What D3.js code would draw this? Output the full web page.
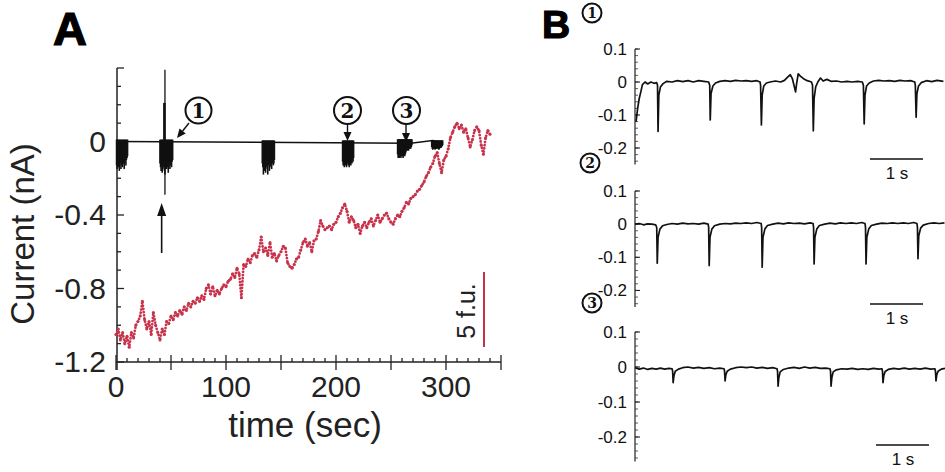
<!DOCTYPE html>
<html>
<head>
<meta charset="utf-8">
<script src="https://cdn.jsdelivr.net/npm/d3@7"></script>
<style>
  body { margin: 0; background: #fff; }
  svg { display: block; font-family: "Liberation Sans", Arial, sans-serif; }
</style>
</head>
<body>
<svg id="chart" width="945" height="472"></svg>
<script>
// ---- panel A data ----
const RED_STEP = 2; // sec between fluorescence samples
const fluorescence = [
  -1.05,-1.02,-1.08,-1.04,-1.10,-1.06,-1.12,-1.04,-1.07,-1.00,-0.98,-0.95,-0.87,-0.97,-1.02,-0.98,
  -1.05,-0.93,-1.00,-1.04,-1.08,-1.02,-1.05,-0.98,-0.99,-0.95,-0.97,-0.93,-0.95,-0.92,-0.94,-0.90,
  -0.92,-0.88,-0.90,-0.87,-0.88,-0.85,-0.87,-0.84,-0.86,-0.80,-0.78,-0.83,-0.79,-0.84,-0.81,-0.83,
  -0.80,-0.78,-0.79,-0.76,-0.75,-0.72,-0.74,-0.69,-0.72,-0.85,-0.67,-0.68,-0.64,-0.66,-0.62,-0.61,
  -0.63,-0.59,-0.52,-0.60,-0.58,-0.62,-0.55,-0.63,-0.61,-0.65,-0.62,-0.60,-0.57,-0.58,-0.66,-0.68,
  -0.69,-0.67,-0.64,-0.63,-0.59,-0.55,-0.53,-0.57,-0.55,-0.60,-0.54,-0.53,-0.49,-0.43,-0.46,-0.48,
  -0.47,-0.46,-0.48,-0.45,-0.44,-0.41,-0.39,-0.36,-0.34,-0.38,-0.44,-0.41,-0.43,-0.47,-0.45,-0.50,
  -0.46,-0.44,-0.47,-0.44,-0.42,-0.46,-0.43,-0.40,-0.44,-0.42,-0.40,-0.39,-0.42,-0.44,-0.45,-0.42,
  -0.40,-0.41,-0.38,-0.36,-0.33,-0.34,-0.31,-0.30,-0.29,-0.27,-0.26,-0.24,-0.22,-0.19,-0.17,-0.14,
  -0.12,-0.08,-0.06,-0.12,-0.17,-0.10,-0.08,-0.04,0.02,0.05,0.08,0.10,0.07,0.09,0.05,0.07,
  0.02,-0.03,0.01,0.06,0.08,0.06,-0.02,-0.07,0.02,0.06,0.04
];

const baselineA = [[0, 0], [268, -0.01], [288, 0.005], [297, -0.01]];
const BURST_STEP = 0.5;
const burstStarts = [0.5, 40, 133, 206, 256, 287];
const burstTops = [0.01, 0.01, 0.005, 0.005, 0.012, 0.006];
const burstDepths = [
  [-0.13,-0.15,-0.10,-0.14,-0.11,-0.16,-0.12,-0.10,-0.15,-0.13,-0.11,-0.14,-0.10,-0.12,-0.15,-0.11,-0.10,-0.13,-0.10,-0.09,-0.08],
  [-0.12,-0.14,-0.16,-0.13,-0.17,-0.15,-0.12,-0.14,-0.16,-0.18,-0.15,-0.13,-0.15,-0.12,-0.14,-0.17,-0.13,-0.11,-0.15,-0.13,-0.12,-0.14,-0.11,-0.10],
  [-0.12,-0.14,-0.18,-0.13,-0.16,-0.12,-0.17,-0.14,-0.12,-0.15,-0.18,-0.13,-0.12,-0.16,-0.14,-0.12,-0.13,-0.15,-0.12,-0.11,-0.13,-0.12,-0.10],
  [-0.11,-0.13,-0.12,-0.14,-0.11,-0.13,-0.12,-0.14,-0.12,-0.11,-0.13,-0.12,-0.14,-0.11,-0.12,-0.13,-0.11,-0.12,-0.10,-0.11,-0.09],
  [-0.07,-0.09,-0.08,-0.09,-0.07,-0.08,-0.09,-0.08,-0.07,-0.08,-0.09,-0.08,-0.07,-0.08,-0.07,-0.06,-0.05,-0.04,-0.05,-0.04,-0.05,-0.04,-0.04,-0.03,-0.04,-0.03,-0.02],
  [-0.03,-0.04,-0.045,-0.04,-0.035,-0.04,-0.045,-0.04,-0.035,-0.04,-0.04,-0.035,-0.04,-0.045,-0.04,-0.035,-0.03,-0.035,-0.03,-0.025,-0.02]
];
// stimulus artefact: [t, top, bottom, width]
const artefact = [[44.5, 0.39, -0.29, 1.3], [44.0, 0.21, 0, 2.6]];

const yTicksA = [0, -0.4, -0.8, -1.2];
const xTicksA = [0, 100, 200, 300];

// ---- panel B data: [sec, nA] ----
const traceB1 = [
  [0.02,-0.12],[0.05,-0.08],[0.08,-0.05],[0.11,-0.03],[0.14,-0.008],[0.19,0.0],[0.24,-0.006],[0.3,0.0],[0.36,-0.004],[0.41,-0.002],
  [0.425,-0.01],[0.435,-0.15],[0.45,-0.04],[0.48,-0.015],[0.53,-0.005],
  [0.6,0.002],[0.7,0.0],[0.8,0.004],[0.9,0.001],[1.0,0.004],[1.1,0.0],[1.2,0.004],[1.3,0.002],[1.39,0.0],
  [1.41,-0.01],[1.42,-0.115],[1.435,-0.035],[1.47,-0.012],[1.52,-0.003],
  [1.6,0.002],[1.7,0.004],[1.8,0.002],[1.9,0.005],[2.0,0.003],[2.1,0.004],[2.2,0.002],[2.3,0.004],[2.36,0.0],
  [2.37,-0.01],[2.385,-0.13],[2.40,-0.04],[2.43,-0.012],[2.48,-0.003],
  [2.55,0.0],[2.65,0.003],[2.75,0.0],[2.82,0.005],[2.88,0.015],[2.93,0.022],[2.97,0.01],[3.0,-0.01],[3.03,-0.03],[3.05,-0.005],[3.08,0.025],[3.12,0.018],[3.18,0.01],[3.25,0.004],[3.33,0.0],
  [3.35,-0.01],[3.365,-0.148],[3.38,-0.05],[3.41,-0.015],[3.45,0.0],[3.5,0.012],[3.55,0.003],[3.62,0.008],[3.7,0.002],[3.8,0.003],[3.9,0.0],[4.0,0.002],[4.1,0.0],[4.2,0.002],[4.29,0.0],
  [4.31,-0.01],[4.325,-0.127],[4.34,-0.04],[4.37,-0.012],[4.42,-0.003],
  [4.5,0.003],[4.6,0.005],[4.7,0.003],[4.8,0.004],[4.9,0.002],[5.0,0.005],[5.1,0.003],[5.2,0.004],[5.28,0.0],
  [5.29,-0.01],[5.305,-0.107],[5.32,-0.035],[5.35,-0.012],[5.4,-0.002],
  [5.5,0.004],[5.6,0.001],[5.7,0.005],[5.82,0.002]
];
const traceB2 = [
  [0.0,0.0],[0.08,0.002],[0.16,-0.002],[0.24,0.001],[0.32,0.0],[0.39,-0.002],
  [0.41,-0.01],[0.42,-0.118],[0.435,-0.04],[0.47,-0.015],[0.52,-0.005],
  [0.6,-0.001],[0.7,0.002],[0.8,0.0],[0.9,0.003],[1.0,0.001],[1.1,0.002],[1.2,0.0],[1.3,0.003],[1.38,0.0],
  [1.39,-0.01],[1.40,-0.125],[1.415,-0.04],[1.45,-0.015],[1.5,-0.005],
  [1.6,0.0],[1.7,0.002],[1.8,0.001],[1.9,0.003],[2.0,0.002],[2.1,0.004],[2.2,0.002],[2.3,0.005],[2.38,0.002],
  [2.39,-0.01],[2.40,-0.13],[2.415,-0.04],[2.45,-0.015],[2.5,-0.004],
  [2.6,0.0],[2.7,0.003],[2.8,0.001],[2.9,0.004],[3.0,0.002],[3.1,0.003],[3.2,0.001],[3.3,0.004],[3.36,0.002],
  [3.37,-0.01],[3.38,-0.12],[3.395,-0.04],[3.43,-0.015],[3.48,-0.004],
  [3.58,0.0],[3.68,0.003],[3.78,0.001],[3.88,0.004],[3.98,0.002],[4.08,0.004],[4.18,0.002],[4.28,0.005],[4.34,0.002],
  [4.35,-0.01],[4.36,-0.12],[4.375,-0.04],[4.41,-0.015],[4.46,-0.004],
  [4.56,0.0],[4.66,0.003],[4.76,0.002],[4.86,0.004],[4.96,0.002],[5.06,0.004],[5.16,0.002],[5.26,0.005],[5.32,0.002],
  [5.33,-0.01],[5.34,-0.104],[5.355,-0.035],[5.39,-0.012],[5.44,-0.003],
  [5.54,0.002],[5.64,0.004],[5.74,0.002],[5.84,0.004]
];
const traceB3 = [
  [0.0,-0.002],[0.08,-0.006],[0.16,-0.003],[0.24,-0.007],[0.32,-0.004],[0.4,-0.006],[0.48,-0.003],[0.56,-0.006],[0.64,-0.004],[0.70,-0.005],
  [0.71,-0.012],[0.72,-0.045],[0.735,-0.025],[0.76,-0.012],[0.82,-0.006],
  [0.9,-0.002],[1.0,0.0],[1.1,-0.003],[1.2,-0.001],[1.3,-0.004],[1.4,-0.002],[1.5,-0.005],[1.6,-0.003],[1.68,-0.005],
  [1.69,-0.012],[1.70,-0.04],[1.715,-0.022],[1.74,-0.012],[1.8,-0.006],
  [1.9,-0.002],[2.0,0.0],[2.1,-0.002],[2.2,0.0],[2.3,-0.003],[2.4,-0.001],[2.5,-0.004],[2.6,-0.002],[2.68,-0.005],
  [2.69,-0.012],[2.70,-0.055],[2.715,-0.03],[2.74,-0.014],[2.8,-0.007],
  [2.9,-0.003],[3.0,-0.001],[3.1,-0.004],[3.2,0.0],[3.3,-0.003],[3.4,-0.001],[3.5,-0.004],[3.6,-0.003],[3.68,-0.005],
  [3.69,-0.012],[3.70,-0.055],[3.715,-0.03],[3.74,-0.014],[3.8,-0.008],
  [3.9,-0.005],[4.0,-0.006],[4.1,-0.004],[4.2,-0.007],[4.3,-0.005],[4.4,-0.007],[4.5,-0.004],[4.6,-0.006],[4.66,-0.005],
  [4.67,-0.012],[4.68,-0.045],[4.695,-0.025],[4.72,-0.013],[4.78,-0.007],
  [4.88,-0.004],[4.98,-0.006],[5.08,-0.003],[5.18,-0.006],[5.28,-0.004],[5.38,-0.006],[5.48,-0.003],[5.58,-0.006],[5.66,-0.005],
  [5.67,-0.012],[5.68,-0.04],[5.695,-0.022],[5.72,-0.012],[5.78,-0.006],[5.85,-0.004]
];
const yTicksB = [0.1, 0, -0.1, -0.2];

const RED = "#c8334b";
const svg = d3.select("#chart");

// ================= panel A =================
const xA = d3.scaleLinear().domain([0, 350]).range([116, 501]);
const yA = d3.scaleLinear().domain([-1.2, 0.4]).range([362, 68]);

svg.append("text").attr("x", 53).attr("y", 45)
  .attr("font-size", 47).attr("font-weight", "bold")
  .attr("stroke", "#000").attr("stroke-width", 1.2).text("A");

let gA = svg.append("g");

// axes
gA.append("line").attr("x1", xA(0) + 1).attr("x2", xA(0) + 1).attr("y1", yA(0.4)).attr("y2", 370)
  .attr("stroke", "#222").attr("stroke-width", 1.5);
gA.append("line").attr("x1", xA(0)).attr("x2", xA(350)).attr("y1", yA(-1.2)).attr("y2", yA(-1.2))
  .attr("stroke", "#222").attr("stroke-width", 1.5);

d3.range(-1.2, 0.401, 0.1).forEach(v => {
  let major = Math.abs(Math.round(v * 10) % 4) === 0;
  gA.append("line").attr("x1", xA(0) + 1).attr("x2", xA(0) + (major ? 8 : 5))
    .attr("y1", yA(v)).attr("y2", yA(v)).attr("stroke", "#222").attr("stroke-width", 1.3);
});
d3.range(0, 351, 10).forEach(t => {
  let major = t % 50 === 0;
  gA.append("line").attr("x1", xA(t)).attr("x2", xA(t))
    .attr("y1", yA(-1.2) - (major ? 7 : 4)).attr("y2", yA(-1.2) + (major ? 8 : 0))
    .attr("stroke", "#222").attr("stroke-width", 1.3);
});

gA.selectAll(".ylab").data(yTicksA).enter().append("text")
  .attr("x", 106).attr("y", d => yA(d) + 10)
  .attr("text-anchor", "end").attr("font-size", 30).attr("fill", "#222")
  .text(d => d === 0 ? "0" : d3.format(".1f")(d).replace("−", "-"));
gA.selectAll(".xlab").data(xTicksA).enter().append("text")
  .attr("x", d => xA(d)).attr("y", 397)
  .attr("text-anchor", "middle").attr("font-size", 30).attr("fill", "#222")
  .text(d => d);

svg.append("text").attr("x", 305).attr("y", 437).attr("text-anchor", "middle")
  .attr("font-size", 35).attr("fill", "#222").text("time (sec)");
svg.append("text").attr("transform", "translate(34,234) rotate(-90)").attr("text-anchor", "middle")
  .attr("font-size", 33).attr("fill", "#222").text("Current (nA)");

// fluorescence (red dotted)
const redLine = d3.line().x((d, i) => xA(i * RED_STEP)).y(d => yA(d));
gA.append("path").attr("d", redLine(fluorescence)).attr("fill", "none")
  .attr("stroke", RED).attr("stroke-width", 2.8).attr("stroke-linecap", "round")
  .attr("stroke-dasharray", "0 3.2");
gA.append("g").selectAll("circle").data(fluorescence).enter().append("circle")
  .attr("cx", (d, i) => xA(i * RED_STEP)).attr("cy", d => yA(d)).attr("r", 1.5)
  .attr("fill", RED);

// black current trace
const blackLine = d3.line().x(d => xA(d[0])).y(d => yA(d[1]));
gA.append("path").attr("d", blackLine(baselineA)).attr("fill", "none")
  .attr("stroke", "#111").attr("stroke-width", 1.5);
burstDepths.forEach((depths, k) => {
  gA.append("g").selectAll("line").data(depths).enter().append("line")
    .attr("x1", (d, i) => xA(burstStarts[k] + i * BURST_STEP))
    .attr("x2", (d, i) => xA(burstStarts[k] + i * BURST_STEP))
    .attr("y1", yA(burstTops[k])).attr("y2", d => yA(d))
    .attr("stroke", "#111").attr("stroke-width", 1.6);
});
artefact.forEach(([t, top, bot, w]) => {
  gA.append("line").attr("x1", xA(t)).attr("x2", xA(t)).attr("y1", yA(top)).attr("y2", yA(bot))
    .attr("stroke", "#111").attr("stroke-width", w);
});

// stimulus arrow
const arrowX = xA(41.5);
gA.append("line").attr("x1", arrowX).attr("x2", arrowX).attr("y1", 253).attr("y2", 212)
  .attr("stroke", "#111").attr("stroke-width", 1.6);
gA.append("path").attr("d", `M${arrowX},203 L${arrowX - 4.5},216 L${arrowX + 4.5},216 Z`).attr("fill", "#111");

// circled markers
function circled(g, cx, cy, r, label, fs) {
  g.append("circle").attr("cx", cx).attr("cy", cy).attr("r", r)
    .attr("fill", "#fff").attr("stroke", "#111").attr("stroke-width", 2);
  g.append("text").attr("x", cx).attr("y", cy + fs * 0.35).attr("text-anchor", "middle")
    .attr("font-family", "'DejaVu Serif','Liberation Serif',serif").attr("font-weight", "bold")
    .attr("font-size", fs).attr("fill", "#111").text(label);
}
circled(gA, 198.5, 110.5, 13, "1", 20);
circled(gA, 347.5, 110.5, 13.5, "2", 20);
circled(gA, 406.5, 110.5, 13.5, "3", 20);
function arrow(g, x1, y1, x2, y2) {
  let a = Math.atan2(y2 - y1, x2 - x1), L = 9, W = 4;
  let bx = x2 - L * Math.cos(a), by = y2 - L * Math.sin(a);
  g.append("line").attr("x1", x1).attr("y1", y1).attr("x2", bx).attr("y2", by)
    .attr("stroke", "#111").attr("stroke-width", 1.4);
  g.append("path").attr("d", `M${x2},${y2} L${bx - W * Math.sin(a)},${by + W * Math.cos(a)} L${bx + W * Math.sin(a)},${by - W * Math.cos(a)} Z`)
    .attr("fill", "#111");
}
arrow(gA, 189, 123, 177, 138);
arrow(gA, 347.5, 124, 347.5, 141);
arrow(gA, 406, 124, 406, 142);

// 5 f.u. scale bar
gA.append("line").attr("x1", 484).attr("x2", 484).attr("y1", 272).attr("y2", 347)
  .attr("stroke", RED).attr("stroke-width", 2);
svg.append("text").attr("transform", "translate(475,311) rotate(-90)").attr("text-anchor", "middle")
  .attr("font-size", 25).attr("fill", "#222").text("5 f.u.");

// ================= panel B =================
svg.append("text").attr("x", 542).attr("y", 38)
  .attr("font-size", 39).attr("font-weight", "bold")
  .attr("stroke", "#000").attr("stroke-width", 1.2).text("B");

const panelsB = [
  {trace: traceB1, dom: [-0.25, 0.1], range: [164.5, 49], bar: 159, barX: 870, label: "1", lab: [592, 13]},
  {trace: traceB2, dom: [-0.25, 0.1], range: [307, 191], bar: 304, barX: 870, label: "2", lab: [590, 163]},
  {trace: traceB3, dom: [-0.27, 0.1], range: [461.5, 332], bar: 445, barX: 876, label: "3", lab: [592, 303]}
];
const xB = d3.scaleLinear().domain([0, 5.85]).range([635, 945]);

panelsB.forEach(p => {
  const y = d3.scaleLinear().domain(p.dom).range(p.range);
  const g = svg.append("g");
  g.append("line").attr("x1", 635).attr("x2", 635).attr("y1", y(0.1)).attr("y2", p.range[0])
    .attr("stroke", "#222").attr("stroke-width", 1.2);
  d3.range(Math.ceil(p.dom[0] / 0.02) * 0.02, 0.1001, 0.02).forEach(v => {
    g.append("line").attr("x1", 635).attr("x2", 638).attr("y1", y(v)).attr("y2", y(v))
      .attr("stroke", "#333").attr("stroke-width", 0.8);
  });
  g.selectAll(".tick").data(yTicksB).enter().append("line")
    .attr("x1", 635).attr("x2", 640).attr("y1", d => y(d)).attr("y2", d => y(d))
    .attr("stroke", "#222").attr("stroke-width", 1.1);
  g.selectAll(".lab").data(yTicksB).enter().append("text")
    .attr("x", 627).attr("y", d => y(d) + 6).attr("text-anchor", "end")
    .attr("font-size", 17).attr("fill", "#111")
    .text(d => d === 0 ? "0" : d3.format(".1f")(d).replace("−", "-"));
  g.append("path").attr("d", d3.line().x(d => xB(d[0])).y(d => y(d[1]))(p.trace))
    .attr("fill", "none").attr("stroke", "#111").attr("stroke-width", 1.7).attr("stroke-linejoin", "round");
  // 1 s scale bar
  g.append("line").attr("x1", p.barX).attr("x2", p.barX + (xB(1) - xB(0))).attr("y1", p.bar).attr("y2", p.bar)
    .attr("stroke", "#111").attr("stroke-width", 1.5);
  g.append("text").attr("x", p.barX + 27).attr("y", p.bar + 20).attr("text-anchor", "middle")
    .attr("font-size", 17).attr("fill", "#111").text("1 s");
  circled(g, p.lab[0], p.lab[1], 9.5, p.label, 14);
});
</script>
</body>
</html>
